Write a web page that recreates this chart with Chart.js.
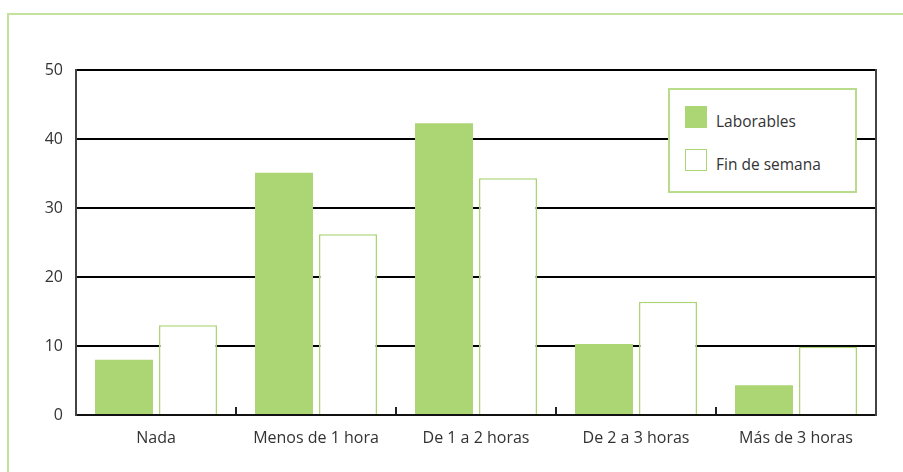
<!DOCTYPE html>
<html>
<head>
<meta charset="utf-8">
<script src="https://cdn.jsdelivr.net/npm/chart.js@4"></script>
<style>
  body { margin: 0; background: #fff; font-family: "Open Sans", sans-serif; }
  #wrap { position: relative; width: 903px; height: 472px; }
  #frame { position: absolute; left: 7px; top: 13px; right: 0; bottom: 0; border-left: 2px solid #c3e29c; border-top: 2px solid #c3e29c; }
  #legend { position: absolute; left: 668px; top: 88px; width: 185px; height: 101px; border: 2px solid #b9dc8c; background: #fff; }
  .item { position: absolute; left: 15px; display: flex; align-items: center; font-size: 15.5px; color: #333; }
  .item span.txt { position: relative; top: 4px; }
  .box { width: 22px; height: 22px; margin-right: 9px; box-sizing: border-box; }
</style>
</head>
<body>
<div id="wrap">
  <div id="frame"></div>
  <canvas id="chart" width="903" height="472"></canvas>
  <div id="legend"></div>
</div>
<script>
const categories = ["Nada", "Menos de 1 hora", "De 1 a 2 horas", "De 2 a 3 horas", "Más de 3 horas"];
const laborables = [8.0, 35.1, 42.3, 10.3, 4.3];
const finDeSemana = [13.0, 26.2, 34.3, 16.4, 9.9];
const yTicks = [0, 10, 20, 30, 40, 50];

const green = "#acd574";

const ctx = document.getElementById('chart').getContext('2d');

let chart = new Chart(ctx, {
  type: 'bar',
  data: {
    labels: categories,
    datasets: [
      {
        label: 'Laborables',
        data: laborables,
        backgroundColor: green,
        borderWidth: 0,
        categoryPercentage: 0.8,
        barPercentage: 0.906
      },
      {
        label: 'Fin de semana',
        data: finDeSemana,
        backgroundColor: '#ffffff',
        borderColor: green,
        borderWidth: 1.5,
        categoryPercentage: 0.8,
        barPercentage: 0.906
      }
    ]
  },
  options: {
    responsive: false,
    animation: false,
    layout: { padding: { top: 70, right: 27, bottom: 0, left: 0 } },
    plugins: {
      legend: { display: false },
      tooltip: { enabled: false }
    },
    scales: {
      x: {
        afterFit: s => { s.height = 57; },
        grid: { drawOnChartArea: false, tickLength: -8, color: '#222', lineWidth: 2 },
        border: { color: '#111', width: 2 },
        ticks: { padding: 22, color: '#333', font: { family: 'Open Sans', size: 16 } }
      },
      y: {
        min: 0,
        max: 50,
        afterFit: s => { s.width = 76; },
        afterBuildTicks: s => { s.ticks = yTicks.map(v => ({ value: v })); },
        grid: { color: '#000', lineWidth: 2, drawTicks: false },
        border: { color: '#444', width: 2 },
        ticks: { padding: 13, color: '#333', font: { family: 'Open Sans', size: 16 } }
      },
      y2: {
        position: 'right',
        min: 0,
        max: 50,
        afterFit: s => { s.width = 0; },
        grid: { display: false, drawTicks: false },
        border: { color: '#444', width: 2 },
        ticks: { display: false }
      }
    }
  }
});

// leyenda dentro del gráfico
const legend = document.getElementById('legend');
chart.data.datasets.forEach((ds, i) => {
  const item = document.createElement('div');
  item.className = 'item';
  item.style.top = (16 + i * 43) + 'px';
  const box = document.createElement('span');
  box.className = 'box';
  box.style.background = ds.backgroundColor;
  if (ds.borderWidth) box.style.border = '1.5px solid ' + ds.borderColor;
  const txt = document.createElement('span');
  txt.className = 'txt';
  txt.textContent = ds.label;
  item.appendChild(box);
  item.appendChild(txt);
  legend.appendChild(item);
});
</script>
</body>
</html>
